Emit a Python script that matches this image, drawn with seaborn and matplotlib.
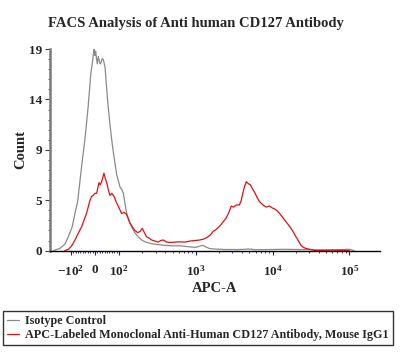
import numpy as np
import pandas as pd
import matplotlib
matplotlib.use("Agg")
import matplotlib.pyplot as plt
import seaborn as sns
from matplotlib.ticker import FixedLocator, AutoMinorLocator

TITLE = "FACS Analysis of Anti human CD127 Antibody"
ISO_LABEL = "Isotype Control"
CD127_LABEL = "APC-Labeled Monoclonal Anti-Human CD127 Antibody, Mouse IgG1"

# isotype control histogram (APC-A value, count)
iso_apc = [-170, -139, -120, -108, -95, -83, -72, -62, -52, -42, -35, -28, -22, -17,
           -10, -6, -3, 0, 3, 7, 10, 14, 18, 22, 25, 30, 35, 39, 42, 48, 55, 62, 70,
           77, 83, 90, 97, 103, 108, 114, 120, 126, 135, 146, 160, 178, 198, 218, 250,
           293, 340, 396, 480, 620, 720, 840, 1000, 1100, 1230, 1350, 1500, 1760, 2500,
           3700, 5000, 6000, 9100, 14000, 22500, 35000, 55100, 80000, 100000, 115000]
iso_count = [0, 0.2, 0.6, 1.3, 2.2, 3.5, 4.6, 6.6, 8.6, 10.4, 12.0, 13.6, 15.3, 16.7,
             17.8, 18.6, 19.0, 18.4, 18.8, 18.0, 17.6, 18.3, 17.9, 17.6, 17.7, 18.1, 18.0, 17.6, 17.3, 15.5, 13.6, 12.0, 10.4,
             9.2, 8.3, 7.2, 6.6, 6.0, 5.8, 5.4, 4.4, 3.5, 2.8, 2.25, 1.7, 1.3, 1.0, 0.83, 0.7,
             0.6, 0.55, 0.5, 0.45, 0.45, 0.4, 0.35, 0.3, 0.4, 0.5, 0.35, 0.2, 0.15, 0.1,
             0.1, 0.15, 0.08, 0.1, 0.12, 0.1, 0.08, 0.05, 0.1, 0.12, 0]

# anti-CD127 stained histogram (APC-A value, count)
cd127_apc = [-120, -108, -95, -83, -70, -55, -45, -35, -28, -21, -14, -7, 0, 7, 12, 17, 22,
             28, 33, 37.5, 43, 49, 55, 62.5, 70, 80, 88, 97, 108, 117, 126, 139, 150, 161,
             175, 188, 201, 214, 229, 245, 266, 295, 324, 350, 376, 420, 460, 540, 620, 720,
             840, 980, 1130, 1290, 1440, 1560, 1680, 1850, 2050, 2270, 2500, 2700, 2900, 3100,
             3380, 3700, 3900, 4040, 4300, 4560, 4850, 5140, 5500, 5840, 6300, 6780, 7500, 8280,
             9100, 10060, 10800, 11700, 13000, 14300, 15800, 17400, 18800, 20200, 21800, 23500,
             25300, 27200, 31800, 36000, 60000, 100000]
cd127_count = [0, 0.1, 0.5, 1.0, 1.6, 2.25, 2.9, 3.5, 4.1, 4.7, 5.1, 5.2, 5.4, 5.4, 5.9, 6.4, 6.2,
               6.5, 6.9, 7.3, 6.8, 6.4, 5.8, 5.2, 5.4, 5.1, 4.6, 4.2, 3.5, 3.6, 3.4, 2.6, 2.2, 1.9,
               1.7, 1.8, 2.1, 1.7, 1.3, 1.2, 1.0, 0.9, 0.8, 0.95, 1.0, 0.8, 0.77, 0.8, 0.83, 0.8,
               0.9, 0.95, 1.0, 1.1, 1.3, 1.5, 1.8, 2.0, 2.3, 2.7, 3.1, 3.6, 4.2, 4.1,
               4.3, 4.3, 4.7, 5.2, 6.0, 6.5, 6.3, 6.2, 5.8, 5.5, 5.0, 4.6, 4.3, 4.1,
               4.2, 4.0, 3.9, 3.7, 3.3, 2.9, 2.5, 2.1, 1.7, 1.3, 0.9, 0.5,
               0.3, 0.2, 0.1, 0, 0.05, 0]

x_ticks = [-100, 0, 100, 1000, 10000, 100000]
x_tick_labels = [r"$-10^{2}$", "0", r"$10^{2}$", r"$10^{3}$", r"$10^{4}$", r"$10^{5}$"]
y_ticks = [0, 4.75, 9.5, 14.25, 19]
y_tick_labels = ["0", "5", "9", "14", "19"]

sns.set_style("ticks")
plt.rcParams["font.family"] = ["Liberation Serif", "DejaVu Serif"]
plt.rcParams["font.weight"] = "bold"
plt.rcParams["mathtext.fontset"] = "custom"
plt.rcParams["mathtext.rm"] = "Liberation Serif:bold"
plt.rcParams["mathtext.bf"] = "Liberation Serif:bold"
plt.rcParams["mathtext.default"] = "rm"

iso = pd.DataFrame({"APC-A": iso_apc, "Count": iso_count})
cd127 = pd.DataFrame({"APC-A": cd127_apc, "Count": cd127_count})

fig = plt.figure(figsize=(4.05, 3.58), dpi=100)
ax = fig.add_axes([0.123, 0.300, 0.815, 0.563])

sns.lineplot(data=iso, x="APC-A", y="Count", color="#8a8a8a", lw=0.9,
             label=ISO_LABEL, ax=ax, sort=False)
sns.lineplot(data=cd127, x="APC-A", y="Count", color="#e01010", lw=0.9,
             label=CD127_LABEL, ax=ax, sort=False)

# logicle-like display: linear around zero, log above 10^2
ax.set_xscale("symlog", linthresh=100, linscale=0.282)
ax.set_xlim(-188, 250000)
ax.set_ylim(0, 19)

ax.xaxis.set_major_locator(FixedLocator(x_ticks))
ax.set_xticklabels(x_tick_labels)
minor_x = [v for v in range(-90, 100, 10) if v != 0]
minor_x += [k * 10 ** n for n in range(2, 5) for k in range(2, 10)]
ax.xaxis.set_minor_locator(FixedLocator(minor_x))
ax.set_yticks(y_ticks)
ax.set_yticklabels(y_tick_labels)
ax.yaxis.set_minor_locator(AutoMinorLocator(5))

ax.tick_params(axis="x", which="major", length=3, width=0.8, color="#1a237e",
               labelsize=9.5, pad=7)
ax.tick_params(axis="x", which="minor", length=1.5, width=0.6, color="#1a237e")
ax.tick_params(axis="y", which="major", length=3.5, width=0.8, color="#404040",
               labelsize=9.5, pad=2)
ax.tick_params(axis="y", which="minor", length=1.5, width=0.6, color="#404040")

sns.despine(ax=ax)
ax.spines["left"].set_color("#7a7a7a")
ax.spines["left"].set_linewidth(1.8)
ax.spines["bottom"].set_color("black")
ax.spines["bottom"].set_linewidth(1.0)

ax.set_xlabel("APC-A", fontsize=10.5, fontweight="bold", labelpad=2)
ax.set_ylabel("Count", fontsize=10.5, fontweight="bold", labelpad=1.5)

fig.text(0.483, 0.935, TITLE, ha="center", va="center", fontsize=10.5, fontweight="bold")

handles, labels = ax.get_legend_handles_labels()
ax.get_legend().remove()
leg = fig.legend(handles, labels, loc="lower left",
                 bbox_to_anchor=(0.0074, 0.036),
                 fontsize=8.7, frameon=True, fancybox=False, borderpad=0.35,
                 handlelength=1.0, handletextpad=0.5, labelspacing=0.15,
                 borderaxespad=0)
leg.get_frame().set_edgecolor("black")
leg.get_frame().set_linewidth(1.0)
for line in leg.get_lines():
    line.set_linewidth(0.9)

fig.savefig("out.png", dpi=100)
plt.close(fig)
